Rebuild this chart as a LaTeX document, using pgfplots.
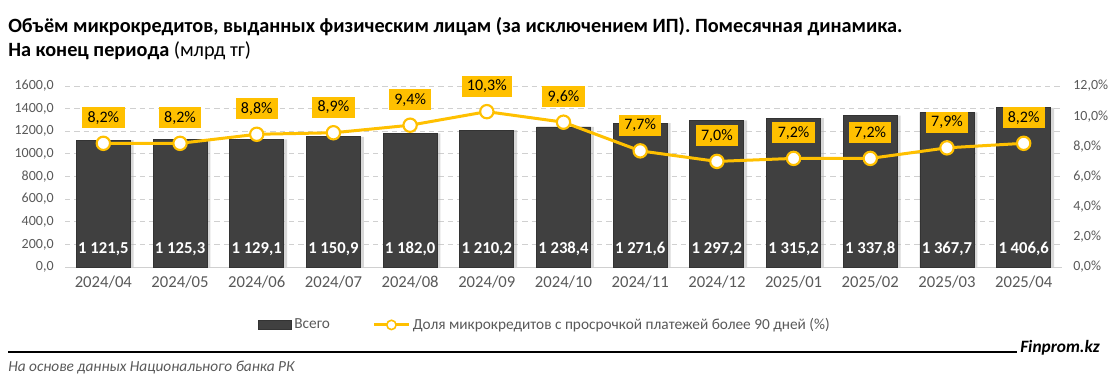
\documentclass[border=0pt]{standalone}
\usepackage{fontspec}
\setmainfont{Carlito}
\usepackage{pgfplots}
\usepackage{pgfplotstable}
\pgfplotsset{compat=1.18}
\definecolor{gold}{HTML}{FFC000}
\definecolor{barc}{HTML}{404040}
\definecolor{tickc}{HTML}{595959}
\definecolor{gridc}{HTML}{D0D0D0}

\pgfplotstableread{
x v ly lab
0 1121.5 160 {1 121,5}
1 1125.3 160 {1 125,3}
2 1129.1 160 {1 129,1}
3 1150.9 160 {1 150,9}
4 1182.0 160 {1 182,0}
5 1210.2 160 {1 210,2}
6 1238.4 160 {1 238,4}
7 1271.6 160 {1 271,6}
8 1297.2 160 {1 297,2}
9 1315.2 160 {1 315,2}
10 1337.8 160 {1 337,8}
11 1367.7 160 {1 367,7}
12 1406.6 160 {1 406,6}
}\bars

\pgfplotstableread{
x p lab
0 8.2 {8,2\%}
1 8.2 {8,2\%}
2 8.8 {8,8\%}
3 8.9 {8,9\%}
4 9.4 {9,4\%}
5 10.3 {10,3\%}
6 9.6 {9,6\%}
7 7.7 {7,7\%}
8 7.0 {7,0\%}
9 7.2 {7,2\%}
10 7.2 {7,2\%}
11 7.9 {7,9\%}
12 8.2 {8,2\%}
}\rates

\begin{document}
\begin{tikzpicture}
\path[use as bounding box] (0,0) rectangle (840pt,289.5pt);

% titles
\node[anchor=base west, inner sep=0pt, font=\fontsize{15.2}{17}\selectfont\bfseries] at (6pt,264.75pt)
  {Объём микрокредитов, выданных физическим лицам (за исключением ИП). Помесячная динамика.};
\node[anchor=base west, inner sep=0pt, font=\fontsize{15.2}{17}\selectfont] at (6pt,246.75pt)
  {\textbf{На конец периода} (млрд тг)};

\begin{axis}[
  at={(48.75pt,89.25pt)}, anchor=south west, scale only axis,
  width=747.75pt, height=135.75pt,
  xmin=-0.5, xmax=12.5, ymin=0, ymax=1600,
  ytick={0,200,...,1600},
  xtick={0,...,12},
  xticklabels={2024/04,2024/05,2024/06,2024/07,2024/08,2024/09,2024/10,2024/11,2024/12,2025/01,2025/02,2025/03,2025/04},
  axis x line*=bottom, axis y line*=left,
  x axis line style={draw=gridc, line width=0.6pt, -},
  y axis line style={draw=none},
  major tick length=0pt,
  ymajorgrids, grid style={draw=gridc, dash pattern=on 4pt off 3pt, line width=0.6pt},
  /pgf/number format/assume math mode=true,
  yticklabel={\pgfmathprintnumber[fixed, fixed zerofill, precision=1, use comma, 1000 sep={}]{\tick}},
  yticklabel style={font=\fontsize{10.5}{12}\selectfont, text=tickc, xshift=-5pt},
  xticklabel style={font=\fontsize{12.5}{14}\selectfont, text=tickc, yshift=-3pt},
  clip=false,
]
\addplot[ybar, bar width=40.5pt, bar shift=2.5pt, fill=black!30, draw=none, opacity=0.5] table[x=x,y=v]{\bars};
\addplot[ybar, bar width=40.5pt, bar shift=0pt, fill=barc, draw=black!80, line width=0.6pt] table[x=x,y=v]{\bars};
\addplot[draw=none, mark=none, nodes near coords, point meta=explicit symbolic,
  every node near coord/.style={anchor=center, text=white, font=\fontsize{12.5}{14}\selectfont\bfseries}]
  table[x=x,y=ly,meta=lab]{\bars};
\end{axis}

\begin{axis}[
  at={(48.75pt,89.25pt)}, anchor=south west, scale only axis,
  width=747.75pt, height=135.75pt,
  xmin=-0.5, xmax=12.5, ymin=0, ymax=12,
  ytick={0,2,...,12},
  axis x line=none, axis y line*=right,
  y axis line style={draw=none},
  major tick length=0pt,
  /pgf/number format/assume math mode=true,
  yticklabel={\pgfmathprintnumber[fixed, fixed zerofill, precision=1, use comma]{\tick}\%},
  yticklabel style={font=\fontsize{10.5}{12}\selectfont, text=tickc, xshift=5pt},
  clip=false,
  legend columns=2,
  legend style={at={(0.4815,-0.32)}, anchor=center, draw=none, fill=none,
    font=\fontsize{11.5}{13}\selectfont, text=tickc,
    /tikz/every even column/.append style={column sep=30pt}},
  legend cell align=left,
]
\addlegendimage{legend image code/.code={\filldraw[fill=barc, draw=black!80] (-6pt,-3.5pt) rectangle (19pt,3.5pt);}}
\addlegendentry{Всего}
\addplot[gold, line width=2.25pt, mark=*, mark size=5pt,
  mark options={fill=white, draw=gold, line width=1.6pt},
  nodes near coords, point meta=explicit symbolic,
  every node near coord/.style={anchor=south, yshift=10.5pt, fill=gold, text=black,
    font=\fontsize{12}{14}\selectfont, inner xsep=4pt, inner ysep=3pt},
  legend image code/.code={\draw[gold, line width=2.25pt] (0pt,0pt) -- (26pt,0pt);
    \filldraw[fill=white, draw=gold, line width=1.2pt] (13pt,0pt) circle (3.5pt);}]
  table[x=x,y=p,meta=lab]{\rates};
\addlegendentry{Доля микрокредитов с просрочкой платежей более 90 дней (\%)}
\end{axis}

% footer
\draw[line width=1.1pt] (6pt,25.5pt) -- (762.75pt,25.5pt);
\node[anchor=base west, inner sep=0pt, font=\fontsize{13}{15}\selectfont\bfseries\itshape] at (765pt,25pt) {Finprom.kz};
\node[anchor=base west, inner sep=0pt, font=\fontsize{11.5}{13}\selectfont\itshape, text=tickc] at (6pt,11.25pt) {На основе данных Национального банка РК};
\end{tikzpicture}
\end{document}
